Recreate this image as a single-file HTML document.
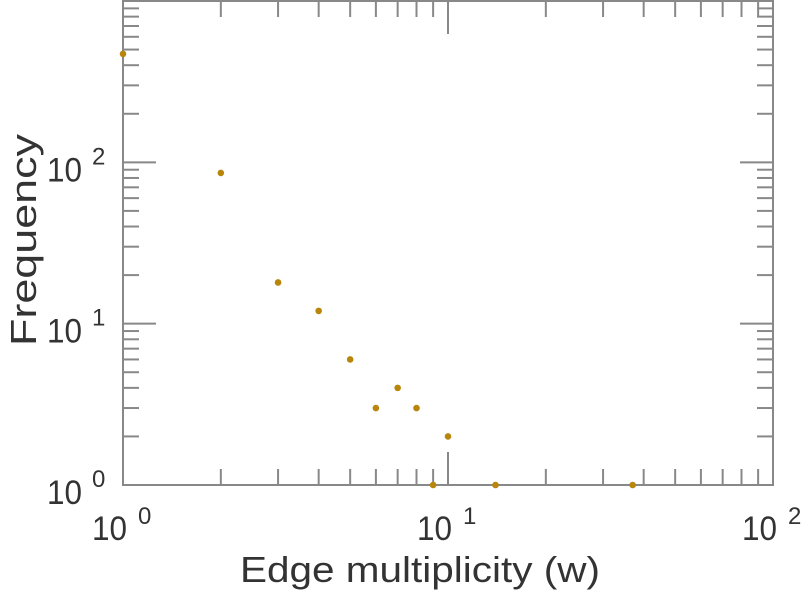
<!DOCTYPE html>
<html><head><meta charset="utf-8"><style>
html,body{margin:0;padding:0;background:#fff;}
svg text{font-family:"Liberation Sans",sans-serif;fill:#333;}
</style></head><body>
<svg id="chart" width="804" height="600" viewBox="0 0 804 600">
<g id="frame"></g>
<g id="ticks"></g>
<g id="labels"></g>
<g id="points"></g>
<text x="420" y="582" font-size="36" text-anchor="middle" textLength="360" lengthAdjust="spacingAndGlyphs">Edge multiplicity (w)</text>
<text transform="translate(36,240) rotate(-90)" font-size="36" text-anchor="middle" textLength="212" lengthAdjust="spacingAndGlyphs">Frequency</text>
</svg>
<script>
const xValues = [1, 2, 3, 4, 5, 6, 7, 8, 9, 10, 14, 37];
const yValues = [470, 86, 18, 12, 6, 3, 4, 3, 1, 2, 1, 1];
const xTickExps = [0, 1, 2];
const yTickExps = [0, 1, 2];

const L=123, R=773, T=1, B=485;
const X = v => L + (Math.log10(v) - 0) / 2 * (R - L);
const Y = v => B - (Math.log10(v) - 0) / 3 * (B - T);
const NS='http://www.w3.org/2000/svg';
function mk(tag, attrs, parent){const e=document.createElementNS(NS,tag);for(const k in attrs)e.setAttribute(k,attrs[k]);parent.appendChild(e);return e;}
const frame=document.getElementById('frame'), ticks=document.getElementById('ticks'), labels=document.getElementById('labels'), pts=document.getElementById('points');
const fr=mk('rect',{x:L,y:T,width:R-L,height:B-T,fill:'none',stroke:'#888','stroke-width':2},frame);


const col='#888';
for(let d=0; d<2; d++){
  for(let m=1;m<10;m++){
    const v=Math.pow(10,d)*m, x=X(v), len=(m===1)?33:16;
    const t1=mk('line',{x1:x,x2:x,y1:B,y2:B-len,stroke:col,'stroke-width':2},ticks);
    
    
    const t2=mk('line',{x1:x,x2:x,y1:T,y2:T+len,stroke:col,'stroke-width':2},ticks);
    
    
  }
}
for(let d=0; d<3; d++){
  for(let m=1;m<10;m++){
    const v=Math.pow(10,d)*m, y=Y(v), len=(m===1)?33:16;
    const t1=mk('line',{x1:L,x2:L+len,y1:y,y2:y,stroke:col,'stroke-width':2},ticks);
    
    
    const t2=mk('line',{x1:R,x2:R-len,y1:y,y2:y,stroke:col,'stroke-width':2},ticks);
    
    
  }
}
xTickExps.forEach(e=>{
  const x=X(Math.pow(10,e));
  const t=mk('text',{x:x-31,y:540,'font-size':34,textLength:35,lengthAdjust:'spacingAndGlyphs'},labels);
  t.textContent='10';
  
  
  const s=mk('text',{x:x+15,y:524,'font-size':24},labels);
  s.textContent=String(e);
  
  
});
yTickExps.forEach(e=>{
  const y=Y(Math.pow(10,e));
  const t=mk('text',{x:47,y:y+19,'font-size':34,textLength:35,lengthAdjust:'spacingAndGlyphs'},labels);
  t.textContent='10';
  
  
  const s=mk('text',{x:92,y:y+2,'font-size':24},labels);
  s.textContent=String(e);
  
  
});
xValues.forEach((xv,i)=>{
  const c=mk('circle',{cx:X(xv),cy:Y(yValues[i]),r:3.3,fill:'#b8860b'},pts);
  
  
});
</script>
</body></html>
